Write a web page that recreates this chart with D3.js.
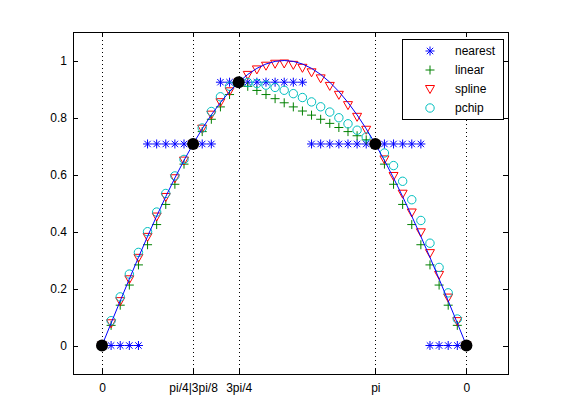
<!DOCTYPE html>
<html>
<head>
<meta charset="utf-8">
<script src="https://cdn.jsdelivr.net/npm/d3@7"></script>
<style>
  body { margin: 0; background: #fff; }
  text { font-family: "Liberation Sans", Arial, sans-serif; font-size: 12px; fill: #000; }
</style>
</head>
<body>
<script>
// Known samples (black dots)
var knotX = [0, 0.7854, 1.1781, 2.3562, 3.1416];
var knotY = [0, 0.7071, 0.9239, 0.7071, 0];

// Query points
var xi = [0, 0.0785, 0.1571, 0.2356, 0.3142, 0.3927, 0.4712, 0.5498, 0.6283, 0.7069,
  0.7854, 0.8639, 0.9425, 1.0210, 1.0996, 1.1781, 1.2566, 1.3352, 1.4137, 1.4923,
  1.5708, 1.6493, 1.7279, 1.8064, 1.8850, 1.9635, 2.0420, 2.1206, 2.1991, 2.2777,
  2.3562, 2.4347, 2.5133, 2.5918, 2.6704, 2.7489, 2.8274, 2.9060, 2.9845, 3.0631, 3.1416];

// True curve (blue line)
var sineY = [0, 0.0785, 0.1564, 0.2334, 0.3090, 0.3827, 0.4540, 0.5225, 0.5878, 0.6494,
  0.7071, 0.7604, 0.8090, 0.8526, 0.8910, 0.9239, 0.9511, 0.9724, 0.9877, 0.9969,
  1.0000, 0.9969, 0.9877, 0.9724, 0.9511, 0.9239, 0.8910, 0.8526, 0.8090, 0.7604,
  0.7071, 0.6494, 0.5878, 0.5225, 0.4540, 0.3827, 0.3090, 0.2334, 0.1564, 0.0785, 0];

var nearestY = [0, 0, 0, 0, 0, 0.7071, 0.7071, 0.7071, 0.7071, 0.7071,
  0.7071, 0.7071, 0.7071, 0.9239, 0.9239, 0.9239, 0.9239, 0.9239, 0.9239, 0.9239,
  0.9239, 0.9239, 0.9239, 0.7071, 0.7071, 0.7071, 0.7071, 0.7071, 0.7071, 0.7071,
  0.7071, 0.7071, 0.7071, 0.7071, 0.7071, 0.7071, 0, 0, 0, 0, 0];

var linearY = [0, 0.0707, 0.1414, 0.2121, 0.2828, 0.3536, 0.4243, 0.4950, 0.5657, 0.6364,
  0.7071, 0.7505, 0.7938, 0.8372, 0.8805, 0.9239, 0.9094, 0.8950, 0.8805, 0.8661,
  0.8516, 0.8372, 0.8227, 0.8083, 0.7938, 0.7794, 0.7649, 0.7505, 0.7360, 0.7216,
  0.7071, 0.6364, 0.5657, 0.4950, 0.4243, 0.3536, 0.2828, 0.2121, 0.1414, 0.0707, 0];

var splineY = [0, 0.0780, 0.1556, 0.2323, 0.3076, 0.3811, 0.4525, 0.5212, 0.5868, 0.6489,
  0.7071, 0.7609, 0.8100, 0.8537, 0.8919, 0.9239, 0.9495, 0.9687, 0.9817, 0.9886,
  0.9895, 0.9847, 0.9743, 0.9585, 0.9373, 0.9109, 0.8796, 0.8434, 0.8024, 0.7570,
  0.7071, 0.6530, 0.5948, 0.5326, 0.4667, 0.3971, 0.3241, 0.2477, 0.1681, 0.0855, 0];

var pchipY = [0, 0.0871, 0.1706, 0.2505, 0.3267, 0.3993, 0.4682, 0.5334, 0.5950, 0.6529,
  0.7071, 0.7632, 0.8211, 0.8727, 0.9097, 0.9239, 0.9227, 0.9191, 0.9134, 0.9055,
  0.8956, 0.8837, 0.8701, 0.8547, 0.8376, 0.8191, 0.7991, 0.7779, 0.7554, 0.7317,
  0.7071, 0.6754, 0.6313, 0.5762, 0.5115, 0.4387, 0.3590, 0.2739, 0.1848, 0.0930, 0];

// Ticks
var xTicks = [0, 0.7854, 1.1781, 2.3562, 3.1416];
var xTickLabels = ["0", "pi/4|3pi/8", "3pi/4", "pi", "0"];
var yTicks = [0, 0.2, 0.4, 0.6, 0.8, 1];
var yTickLabels = ["0", "0.2", "0.4", "0.6", "0.8", "1"];

var seriesNames = ["nearest", "linear", "spline", "pchip"];
var seriesData = [nearestY, linearY, splineY, pchipY];

width = 561
height = 420

// Marker shapes, matlab style
var markers = {
  nearest: { color: "#0000ff", path: "M-4.5,0H4.5M0,-4.5V4.5M-3.2,-3.2L3.2,3.2M-3.2,3.2L3.2,-3.2" },
  linear: { color: "#008000", path: "M-4.5,0H4.5M0,-4.5V4.5" },
  spline: { color: "#ff0000", path: "M-4.5,-3.5L4.5,-3.5L0,4.5Z" },
  pchip: { color: "#00bfbf", path: null }
};

var svg = d3.select("body")
  .append("svg")
  .attr("width", width)
  .attr("height", height);

xScale = d3.scaleLinear().domain([-0.25, 3.5]).range([73, 508]);
yScale = d3.scaleLinear().domain([-0.1, 1.1]).range([374, 32]);

// dotted vertical grid at the x ticks
svg.append("g")
  .selectAll("line")
  .data(xTicks)
  .join("line")
  .attr("x1", d => Math.round(xScale(d)) + 0.5)
  .attr("x2", d => Math.round(xScale(d)) + 0.5)
  .attr("y1", yScale.range()[1])
  .attr("y2", yScale.range()[0])
  .attr("stroke", "#000")
  .attr("stroke-dasharray", "1,3");

// Axes (ticks pointing inward like matlab)
xAxis = g => g
  .attr("transform", `translate(0,${yScale.range()[0]})`)
  .call(d3.axisBottom(xScale).tickValues(xTicks).tickFormat((d, i) => xTickLabels[i]).tickSize(-5).tickPadding(9))
  .call(g => g.select(".domain").remove());

xAxisTop = g => g
  .attr("transform", `translate(0,${yScale.range()[1]})`)
  .call(d3.axisTop(xScale).tickValues(xTicks).tickFormat("").tickSize(-5))
  .call(g => g.select(".domain").remove());

yAxis = g => g
  .attr("transform", `translate(${xScale.range()[0]},0)`)
  .call(d3.axisLeft(yScale).tickValues(yTicks).tickFormat((d, i) => yTickLabels[i]).tickSize(-5).tickPadding(6))
  .call(g => g.select(".domain").remove());

yAxisRight = g => g
  .attr("transform", `translate(${xScale.range()[1]},0)`)
  .call(d3.axisRight(yScale).tickValues(yTicks).tickFormat("").tickSize(-5))
  .call(g => g.select(".domain").remove());

[xAxis, xAxisTop, yAxis, yAxisRight].forEach(a => {
  svg.append("g").call(a)
    .attr("font-family", null)
    .attr("font-size", null)
    .call(g => g.selectAll("line").attr("shape-rendering", "crispEdges"));
});

// axes box
svg.append("rect")
  .attr("x", xScale.range()[0])
  .attr("y", yScale.range()[1])
  .attr("width", xScale.range()[1] - xScale.range()[0])
  .attr("height", yScale.range()[0] - yScale.range()[1])
  .attr("fill", "none")
  .attr("stroke", "#000")
  .attr("shape-rendering", "crispEdges");

function drawMarker(sel, name) {
  var m = markers[name];
  if (m.path) {
    sel.append("path").attr("d", m.path)
      .attr("fill", "none").attr("stroke", m.color).attr("stroke-width", 1);
  } else {
    sel.append("circle").attr("r", 4.2)
      .attr("fill", "none").attr("stroke", m.color).attr("stroke-width", 1);
  }
}

// interpolated series
seriesNames.forEach((name, s) => {
  var g = svg.append("g").attr("class", "series-" + name);
  xi.forEach((xv, i) => {
    var p = g.append("g").attr("transform", `translate(${xScale(xv)},${yScale(seriesData[s][i])})`);
    drawMarker(p, name);
  });
});

// true curve
var line = d3.line()
  .x((d, i) => xScale(xi[i]))
  .y(d => yScale(d));

svg.append("path")
  .datum(sineY)
  .attr("d", line)
  .attr("fill", "none")
  .attr("stroke", "#0000ff")
  .attr("stroke-width", 1);

// sample points
svg.append("g")
  .selectAll("circle")
  .data(knotX)
  .join("circle")
  .attr("cx", d => xScale(d))
  .attr("cy", (d, i) => yScale(knotY[i]))
  .attr("r", 6)
  .attr("fill", "#000");

// legend
var legend = svg.append("g").attr("transform", "translate(402,39)");
legend.append("rect")
  .attr("width", 101)
  .attr("height", 80)
  .attr("fill", "#fff")
  .attr("stroke", "#000")
  .attr("shape-rendering", "crispEdges");

seriesNames.forEach((name, i) => {
  var row = legend.append("g").attr("transform", `translate(0,${12 + i * 19})`);
  drawMarker(row.append("g").attr("transform", "translate(28,0)"), name);
  row.append("text")
    .attr("x", 53)
    .attr("dy", "0.35em")
    .text(name);
});
</script>
</body>
</html>
